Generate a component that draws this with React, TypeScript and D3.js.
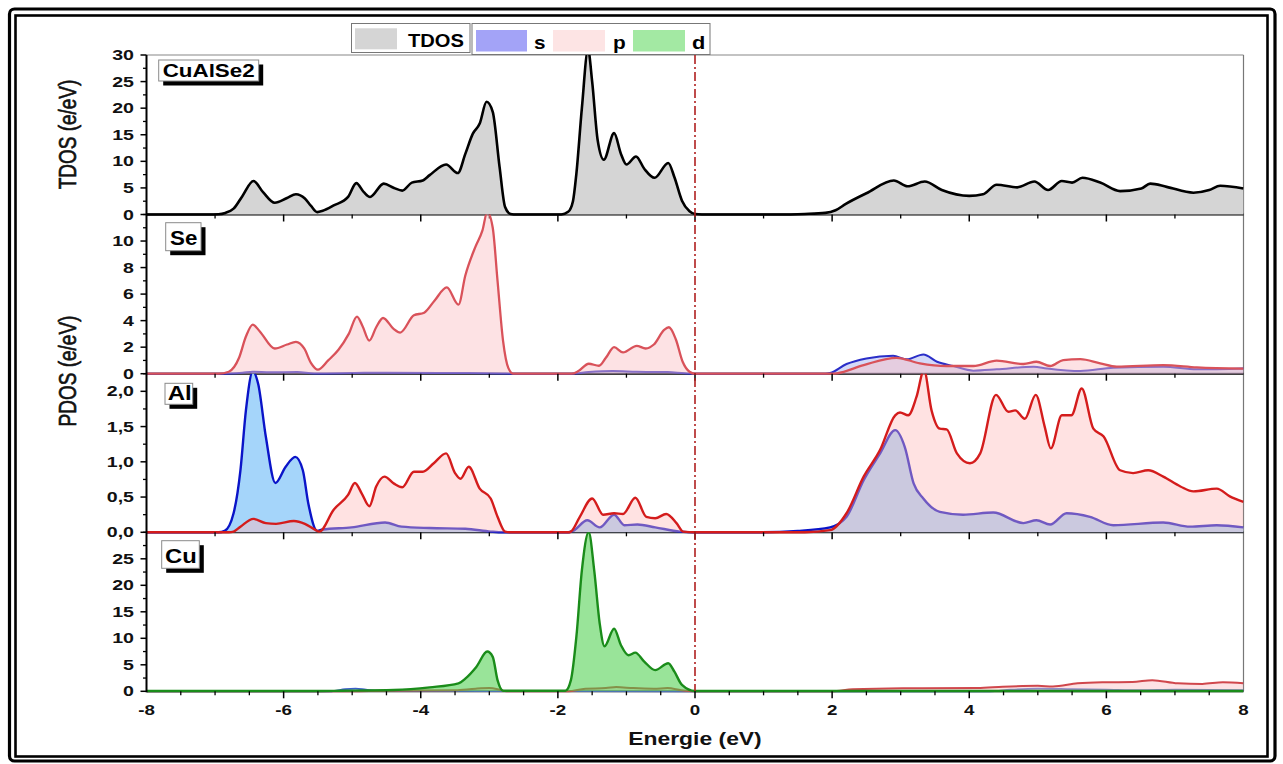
import React from 'react';
import * as d3 from 'd3';

type P = [number, number];

// ---------- data (energy eV, density) ----------
const energyTicks = [-8, -6, -4, -2, 0, 2, 4, 6, 8];

const tdos: P[] = [[-8,0],[-7.1,0],[-6.95,0.05],[-6.85,0.3],[-6.73,1.1],[-6.6,3.5],[-6.44,6.3],[-6.3,4.2],[-6.13,2.2],[-5.95,3.1],[-5.82,3.8],[-5.69,3.0],[-5.6,1.6],[-5.51,0.45],[-5.43,0.7],[-5.27,1.7],[-5.06,3.3],[-4.94,5.9],[-4.83,4.2],[-4.74,3.3],[-4.54,5.8],[-4.39,5.0],[-4.27,4.5],[-4.13,6.0],[-3.97,6.4],[-3.87,7.4],[-3.63,9.4],[-3.46,7.8],[-3.35,11.4],[-3.24,15.2],[-3.14,17.1],[-3.04,21.2],[-2.95,19.3],[-2.85,8.9],[-2.77,1.4],[-2.69,0.1],[-2.6,0],[-1.95,0],[-1.85,0.5],[-1.78,2.5],[-1.73,7.7],[-1.65,20],[-1.56,31],[-1.5,25],[-1.42,14],[-1.33,10.3],[-1.18,15.3],[-1.08,11.4],[-1.0,9.4],[-0.86,10.9],[-0.74,8.6],[-0.59,6.9],[-0.39,9.7],[-0.3,7.0],[-0.19,2.6],[-0.08,0.6],[0,0.1],[0.2,0],[1.2,0],[1.6,0.1],[1.9,0.3],[2.05,0.8],[2.2,2.0],[2.5,4.0],[2.9,6.4],[3.1,5.3],[3.35,6.2],[3.6,4.6],[4.0,3.5],[4.2,3.8],[4.4,5.6],[4.7,5.1],[4.95,6.2],[5.15,4.6],[5.35,6.3],[5.5,6.0],[5.65,6.9],[5.91,6.0],[6.2,4.4],[6.51,4.9],[6.64,5.8],[6.88,5.2],[7.27,4.1],[7.5,4.6],[7.66,5.4],[8,4.9]];

const seS: P[] = [[-8,0],[-6.9,0],[-6.6,0.08],[-6.45,0.15],[-6.2,0.1],[-5.8,0.12],[-5.55,0.02],[-5.0,0.05],[-4.5,0.08],[-3.5,0.05],[-2.8,0.02],[-2.7,0],[-1.8,0],[-1.55,0.12],[-1.2,0.2],[-0.85,0.15],[-0.4,0.12],[-0.15,0.03],[0,0],[1.9,0],[1.97,0.05],[2.21,0.73],[2.5,1.15],[2.89,1.35],[3.09,1.08],[3.33,1.45],[3.53,0.9],[3.77,0.58],[4.06,0.23],[4.4,0.33],[4.94,0.53],[5.13,0.4],[5.62,0.2],[6.1,0.45],[6.83,0.53],[7.32,0.33],[8,0.4]];

const seP: P[] = [[-8,0],[-6.95,0],[-6.8,0.15],[-6.65,1.2],[-6.55,2.8],[-6.45,3.7],[-6.35,3.2],[-6.13,1.9],[-5.95,2.2],[-5.82,2.4],[-5.7,1.9],[-5.6,0.8],[-5.5,0.3],[-5.35,1.0],[-5.2,1.8],[-5.05,3.0],[-4.93,4.3],[-4.85,3.6],[-4.75,2.5],[-4.65,3.5],[-4.55,4.2],[-4.4,3.4],[-4.3,3.1],[-4.1,4.4],[-3.95,4.6],[-3.8,5.5],[-3.62,6.5],[-3.45,5.2],[-3.35,7.4],[-3.2,9.6],[-3.1,10.8],[-3.03,12.2],[-2.95,11.0],[-2.88,7.0],[-2.8,2.5],[-2.72,0.4],[-2.65,0],[-1.8,0],[-1.7,0.2],[-1.55,0.75],[-1.4,0.6],[-1.3,1.2],[-1.18,2.0],[-1.05,1.6],[-0.85,2.1],[-0.72,1.9],[-0.6,2.2],[-0.45,3.3],[-0.38,3.5],[-0.28,2.6],[-0.18,0.9],[-0.08,0.15],[0,0],[2.0,0],[2.07,0.03],[2.46,0.65],[2.94,1.2],[3.28,0.78],[3.67,0.58],[4.06,0.58],[4.4,0.98],[4.79,0.73],[4.98,0.9],[5.18,0.58],[5.37,1.03],[5.62,1.1],[5.91,0.78],[6.15,0.53],[6.83,0.65],[7.32,0.48],[8,0.38]];

const alS: P[] = [[-8,0],[-6.95,0],[-6.86,0.02],[-6.73,0.27],[-6.63,0.88],[-6.55,1.73],[-6.45,2.28],[-6.37,2.1],[-6.26,1.36],[-6.12,0.7],[-5.97,0.93],[-5.83,1.07],[-5.72,0.88],[-5.64,0.41],[-5.51,0.02],[-5.43,0.04],[-5.01,0.07],[-4.52,0.14],[-4.28,0.08],[-3.87,0.06],[-3.35,0.05],[-2.98,0.01],[-2.8,0],[-1.85,0],[-1.78,0.02],[-1.57,0.17],[-1.39,0.07],[-1.18,0.25],[-1.03,0.1],[-0.84,0.11],[-0.58,0.07],[-0.22,0.01],[0,0],[0.9,0],[1.5,0.02],[1.97,0.07],[2.21,0.22],[2.46,0.74],[2.7,1.12],[2.92,1.45],[3.06,1.21],[3.19,0.69],[3.33,0.48],[3.57,0.29],[3.91,0.25],[4.35,0.28],[4.79,0.13],[4.98,0.17],[5.18,0.11],[5.42,0.27],[5.76,0.22],[6.1,0.1],[6.83,0.14],[7.22,0.08],[7.61,0.1],[8,0.07]];

const alP: P[] = [[-8,0],[-6.8,0],[-6.73,0.01],[-6.63,0.08],[-6.44,0.19],[-6.26,0.13],[-6.11,0.12],[-5.85,0.16],[-5.69,0.12],[-5.53,0.03],[-5.48,0.01],[-5.27,0.32],[-5.06,0.53],[-4.96,0.7],[-4.86,0.55],[-4.75,0.37],[-4.65,0.65],[-4.53,0.79],[-4.39,0.69],[-4.27,0.64],[-4.1,0.86],[-3.97,0.86],[-3.81,0.98],[-3.63,1.12],[-3.5,0.84],[-3.42,0.76],[-3.3,0.93],[-3.14,0.62],[-2.98,0.48],[-2.88,0.22],[-2.77,0.01],[-2.7,0],[-1.85,0],[-1.81,0.01],[-1.68,0.22],[-1.5,0.48],[-1.34,0.25],[-1.18,0.27],[-1.05,0.26],[-0.87,0.49],[-0.71,0.22],[-0.58,0.2],[-0.42,0.26],[-0.27,0.13],[-0.17,0.01],[0,0],[1.6,0],[1.97,0.03],[2.21,0.27],[2.46,0.79],[2.7,1.17],[2.92,1.66],[2.99,1.7],[3.11,1.66],[3.23,1.92],[3.34,2.3],[3.45,1.73],[3.57,1.47],[3.67,1.46],[3.82,1.12],[4.01,0.98],[4.16,1.12],[4.39,1.95],[4.57,1.71],[4.67,1.73],[4.81,1.61],[4.97,1.95],[5.1,1.5],[5.19,1.19],[5.35,1.66],[5.49,1.66],[5.64,2.04],[5.81,1.47],[5.96,1.36],[6.2,0.88],[6.39,0.84],[6.61,0.88],[6.83,0.79],[7.08,0.65],[7.27,0.58],[7.61,0.62],[7.8,0.51],[8,0.43]];

const cuS: P[] = [[-8,0],[-5.3,0],[-5.1,0.4],[-4.95,0.5],[-4.8,0.3],[-4.6,0.1],[-3,0.05],[0,0],[4.3,0],[4.6,0.3],[5,0.5],[5.5,0.4],[6,0.3],[6.5,0.2],[7,0.3],[8,0.2]];

const cuP: P[] = [[-8,0],[-5.2,0],[-4.5,0.1],[-3.5,0.2],[-3.2,0.5],[-3.0,0.6],[-2.85,0.3],[-2.75,0],[-1.85,0],[-1.6,0.5],[-1.3,0.6],[-1.15,0.8],[-0.9,0.6],[-0.6,0.5],[-0.4,0.6],[-0.2,0.2],[0,0],[2.0,0],[2.3,0.37],[3.03,0.56],[4.12,0.6],[4.49,0.86],[5.0,1.05],[5.22,0.9],[5.58,1.5],[5.94,1.7],[6.38,1.75],[6.67,2.1],[7.04,1.5],[7.4,1.4],[7.7,1.7],[8,1.5]];

const cuD: P[] = [[-8,0.05],[-5.5,0.05],[-5.17,0.1],[-4.39,0.25],[-3.87,0.75],[-3.45,1.5],[-3.35,2.4],[-3.19,4.6],[-3.03,7.5],[-2.95,6.5],[-2.88,2.1],[-2.8,0.1],[-1.89,0.1],[-1.81,2.1],[-1.73,10.3],[-1.65,22.8],[-1.55,30],[-1.47,22.8],[-1.39,12.8],[-1.32,8.5],[-1.18,11.8],[-1.08,8.7],[-0.97,6.8],[-0.87,7.3],[-0.74,5.6],[-0.58,4.0],[-0.39,5.3],[-0.3,3.7],[-0.19,1.2],[0,0.05],[8,0.05]];

const tdosTicks = [0, 5, 10, 15, 20, 25, 30];
const seTicks = [0, 2, 4, 6, 8, 10];
const alTicks = [0, 0.5, 1.0, 1.5, 2.0];
const cuTicks = [0, 5, 10, 15, 20, 25];

// ---------- layout ----------
const X0 = 146.5, X1 = 1243.5;
const x = d3.scaleLinear().domain([-8, 8]).range([X0, X1]);
const FONT = '"Liberation Sans", Arial, sans-serif';

type Series = { data: P[]; line: string; fill: string; width: number };
type PanelDef = {
  id: string; top: number; bottom: number; max: number; ticks: number[]; minorStep: number;
  fmt: (v: number) => string; series: Series[]; clip: boolean; bottomMinor: number;
  label: string; box: [number, number, number, number]; labelX: number; labelY: number; labelSize: number; labelLen: number;
};

const intFmt = (v: number) => String(v);
const commaFmt = (v: number) => v.toFixed(1).replace('.', ',');

const panels: PanelDef[] = [
  { id: 'tdos', top: 55, bottom: 214.5, max: 30, ticks: tdosTicks, minorStep: 2.5, fmt: intFmt, clip: false, bottomMinor: 1,
    series: [{ data: tdos, line: '#000', fill: '#d5d5d5', width: 2.6 }],
    label: 'CuAlSe2', box: [158.7, 60, 100, 21], labelX: 162.7, labelY: 76.5, labelSize: 17.7, labelLen: 92 },
  { id: 'se', top: 214.5, bottom: 373.7, max: 12, ticks: seTicks, minorStep: 1, fmt: intFmt, clip: true, bottomMinor: 1,
    series: [
      { data: seS, line: '#2a2ec8', fill: 'rgba(160,170,240,0.45)', width: 2 },
      { data: seP, line: '#d9525a', fill: 'rgba(250,190,195,0.45)', width: 2.3 },
    ],
    label: 'Se', box: [165.7, 222.7, 35.3, 28], labelX: 170, labelY: 245, labelSize: 20, labelLen: 27.3 },
  { id: 'al', top: 373.7, bottom: 532.3, max: 2.25, ticks: alTicks, minorStep: 0.25, fmt: commaFmt, clip: true, bottomMinor: 1,
    series: [
      { data: alS, line: '#0a14c8', fill: '#a5d5fa', width: 2.4 },
      { data: alP, line: '#d41c1c', fill: 'rgba(255,185,185,0.42)', width: 2.4 },
    ],
    label: 'Al', box: [165, 383.3, 27.7, 21], labelX: 167.7, labelY: 399.5, labelSize: 20, labelLen: 24 },
  { id: 'cu', top: 532.3, bottom: 691.3, max: 30, ticks: cuTicks, minorStep: 2.5, fmt: intFmt, clip: true, bottomMinor: 0.5,
    series: [
      { data: cuS, line: '#3a5ec8', fill: 'rgba(150,170,240,0.4)', width: 1.8 },
      { data: cuP, line: '#d0474c', fill: 'rgba(250,190,195,0.45)', width: 2 },
      { data: cuD, line: '#1a8c1a', fill: 'rgba(70,205,70,0.55)', width: 2.4 },
    ],
    label: 'Cu', box: [161.7, 540.7, 37.6, 27.6], labelX: 165, labelY: 562.5, labelSize: 20, labelLen: 31.7 },
];

function Panel({ p }: { p: PanelDef }) {
  const y = d3.scaleLinear().domain([0, p.max]).range([p.bottom, p.top]);
  const area = d3.area<P>().x(d => x(d[0])).y0(y(0)).y1(d => y(d[1])).curve(d3.curveMonotoneX);
  const line = d3.line<P>().x(d => x(d[0])).y(d => y(d[1])).curve(d3.curveMonotoneX);
  const minors: number[] = [];
  for (let v = p.minorStep; v <= p.max + 1e-6; v += p.minorStep) {
    if (!p.ticks.some(t => Math.abs(t - v) < 1e-6)) minors.push(v);
  }
  const xMinor: number[] = [];
  for (let v = -8 + p.bottomMinor; v < 8 - 1e-6; v += p.bottomMinor) {
    if (!energyTicks.some(t => Math.abs(t - v) < 1e-6)) xMinor.push(v);
  }
  const clipId = `clip-${p.id}`;
  return (
    <g>
      <defs>
        <clipPath id={clipId}>
          <rect x={X0} y={p.clip ? p.top : 30} width={X1 - X0} height={p.bottom - (p.clip ? p.top : 30) + 2} />
        </clipPath>
      </defs>
      <line x1={X0} x2={X1} y1={p.bottom} y2={p.bottom} stroke="#000" strokeWidth={2} />
      <g clipPath={`url(#${clipId})`}>
        {p.series.map((s, i) => (
          <g key={i}>
            <path d={area(s.data) || ''} fill={s.fill} stroke="none" />
            <path d={line(s.data) || ''} fill="none" stroke={s.line} strokeWidth={s.width} strokeLinejoin="round" />
          </g>
        ))}
      </g>
      {energyTicks.slice(1, -1).map(t => (
        <line key={'xm' + t} x1={x(t)} x2={x(t)} y1={p.bottom} y2={p.bottom + 7} stroke="#000" strokeWidth={1.5} />
      ))}
      {xMinor.map(t => (
        <line key={'xn' + t} x1={x(t)} x2={x(t)} y1={p.bottom} y2={p.bottom + 4} stroke="#000" strokeWidth={1.3} />
      ))}
      {p.ticks.map(t => (
        <g key={'yt' + t}>
          <line x1={X0 - 6} x2={X0} y1={y(t)} y2={y(t)} stroke="#000" strokeWidth={1.5} />
          <text transform={`translate(${134},${y(t) + 5}) scale(1.35,1)`} textAnchor="end"
            fontFamily={FONT} fontWeight="bold" fontSize={14.5} fill="#111">{p.fmt(t)}</text>
        </g>
      ))}
      {minors.map(t => (
        <line key={'ym' + t} x1={X0 - 3.5} x2={X0} y1={y(t)} y2={y(t)} stroke="#000" strokeWidth={1.3} />
      ))}
      <rect x={p.box[0] + 4.5} y={p.box[1] + 4.5} width={p.box[2]} height={p.box[3]} fill="#000" />
      <rect x={p.box[0]} y={p.box[1]} width={p.box[2]} height={p.box[3]} fill="#fff" stroke="#8a8a8a" strokeWidth={1} />
      <text x={p.labelX} y={p.labelY} fontFamily={FONT} fontWeight="bold" fontSize={p.labelSize}
        textLength={p.labelLen} lengthAdjust="spacingAndGlyphs" fill="#000">{p.label}</text>
    </g>
  );
}

export default function App() {
  return (
    <svg width={1283} height={764} viewBox="0 0 1283 764"
      style={{ position: 'absolute', left: 0, top: 0, background: '#fff', display: 'block' }}>
      <rect x={0} y={0} width={1283} height={764} fill="#fff" />
      <rect x={9.5} y={9} width={1265.5} height={752} rx={5} fill="none" stroke="#000" strokeWidth={3.2} />
      <rect x={15.5} y={15.5} width={1252} height={741} fill="none" stroke="#000" strokeWidth={2.6} />

      <line x1={X0} x2={X1} y1={55} y2={55} stroke="#888" strokeWidth={1.2} />
      <line x1={X1} x2={X1} y1={55} y2={691.3} stroke="#777" strokeWidth={1.2} />

      {panels.map(p => <Panel key={p.id} p={p} />)}

      <line x1={X0} x2={X0} y1={55} y2={692.3} stroke="#000" strokeWidth={2} />

      <line x1={x(0)} x2={x(0)} y1={55} y2={691} stroke="#b02020" strokeWidth={1.6} strokeDasharray="9,3,2,3" />

      {energyTicks.map(t => (
        <text key={'xl' + t} transform={`translate(${x(t)},${715}) scale(1.25,1)`} textAnchor="middle"
          fontFamily={FONT} fontWeight="bold" fontSize={15} fill="#111">{t}</text>
      ))}
      <text transform={`translate(${x(0)},744.5) scale(1.3,1)`} textAnchor="middle" fontFamily={FONT}
        fontWeight="bold" fontSize={17.6} fill="#111">Energie (eV)</text>

      <text transform="translate(67,134.5) scale(1.3,1) rotate(-90)" textAnchor="middle" dy="0.35em"
        fontFamily={FONT} fontSize={19} fill="#111" stroke="#111" strokeWidth={0.5}>TDOS (e/eV)</text>
      <text transform="translate(67,371) scale(1.3,1) rotate(-90)" textAnchor="middle" dy="0.35em"
        fontFamily={FONT} fontSize={19} fill="#111" stroke="#111" strokeWidth={0.5}>PDOS (e/eV)</text>

      <rect x={351.5} y={23.5} width={118.5} height={29} fill="#fff" stroke="#777" strokeWidth={1} />
      <rect x={355} y={28.3} width={42} height={21} fill="#d5d5d5" />
      <text x={408} y={46.5} fontFamily={FONT} fontWeight="bold" fontSize={19} textLength={56}
        lengthAdjust="spacingAndGlyphs" fill="#000">TDOS</text>
      <rect x={472} y={23.5} width={238} height={31} fill="#fff" stroke="#777" strokeWidth={1} />
      <rect x={476} y={30} width={51} height={21.5} fill="#a3a3f7" />
      <text x={534} y={49} fontFamily={FONT} fontWeight="bold" fontSize={19} textLength={11.5}
        lengthAdjust="spacingAndGlyphs" fill="#000">s</text>
      <rect x={553} y={30} width={52} height={21.5} fill="#fde4e4" />
      <text x={613} y={49} fontFamily={FONT} fontWeight="bold" fontSize={19} textLength={12.7}
        lengthAdjust="spacingAndGlyphs" fill="#000">p</text>
      <rect x={633} y={30} width={52} height={21.5} fill="#a3e9a3" />
      <text x={692} y={49} fontFamily={FONT} fontWeight="bold" fontSize={19} textLength={13.3}
        lengthAdjust="spacingAndGlyphs" fill="#000">d</text>
    </svg>
  );
}
